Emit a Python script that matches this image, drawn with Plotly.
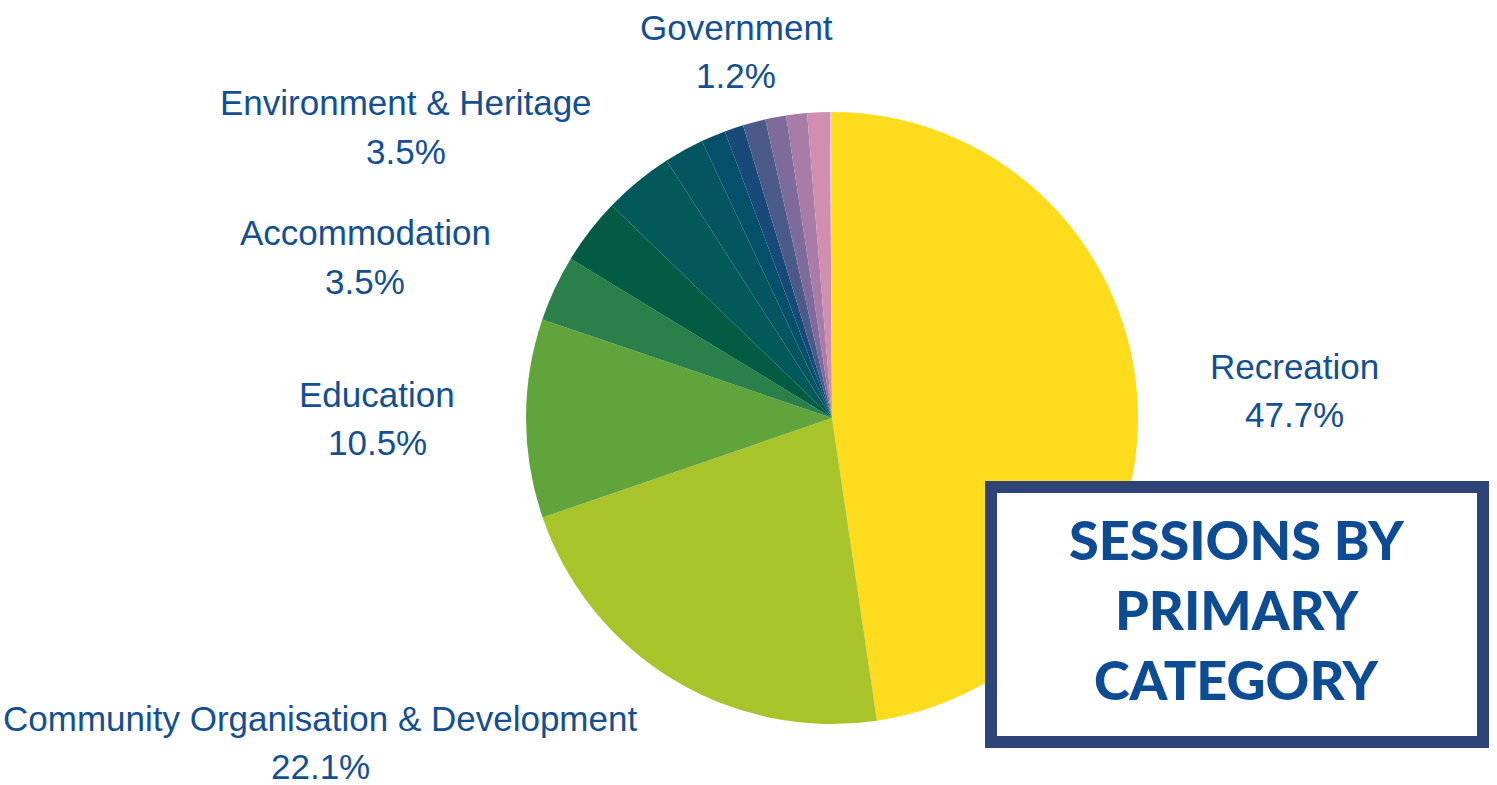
import plotly.graph_objects as go

W, H = 1497, 785

# Data (clockwise from 12 o'clock)
categories = [
    "Recreation",
    "Community Organisation & Development",
    "Education",
    "Accommodation",
    "Environment & Heritage",
    "Other category 1",
    "Other category 2",
    "Other category 3",
    "Other category 4",
    "Other category 5",
    "Other category 6",
    "Other category 7",
    "Government",
    "Other category 8",
]
values = [47.7, 22.1, 10.5, 3.5, 3.5, 3.7, 2.1, 1.3, 1.0, 1.2, 1.1, 1.1, 1.2, 0.1]
colors = [
    "#fcdc1c", "#a9c42b", "#62a43c", "#2a7f4a", "#035b44", "#03585a",
    "#04555f", "#044f6a", "#174a78", "#4c5a8a", "#7e6a9b", "#a97ca7",
    "#d08fb0", "#f2c6da",
]

# Labelled categories and their label positions (pixels)
labelled = {
    "Government": (736, 28, 76),
    "Environment & Heritage": (406, 103, 152),
    "Accommodation": (365, 233, 282),
    "Education": (377, 394, 442),
    "Recreation": (1294, 366, 414),
    "Community Organisation & Development": (320, 718, 766),
}

title_lines = ["SESSIONS BY", "PRIMARY", "CATEGORY"]


def px(x):
    return x / W


def py(y):
    return 1 - y / H


fig = go.Figure(
    go.Pie(
        labels=categories,
        values=values,
        marker=dict(colors=colors, line=dict(width=0)),
        sort=False,
        direction="clockwise",
        rotation=0,
        textinfo="none",
        hoverinfo="label+percent",
        showlegend=False,
        domain=dict(x=[px(526), px(1138)], y=[py(724), py(112)]),
    )
)

label_color = "#134f91"
label_font = dict(family="Liberation Sans, Arial", size=35, color=label_color)
annotations = []
for name, val in zip(categories, values):
    if name in labelled:
        x, y1, y2 = labelled[name]
        annotations.append(dict(
            x=px(x), y=py(y1), xref="paper", yref="paper", text=name,
            showarrow=False, xanchor="center", yanchor="middle", font=label_font,
        ))
        annotations.append(dict(
            x=px(x), y=py(y2), xref="paper", yref="paper", text=f"{val}%",
            showarrow=False, xanchor="center", yanchor="middle", font=label_font,
        ))

for line, yc in zip(title_lines, [539, 609, 679]):
    annotations.append(dict(
        x=px(1237), y=py(yc), xref="paper", yref="paper", text=line,
        showarrow=False, xanchor="center", yanchor="middle",
        font=dict(family="Lato", size=54, color="#0d4c92", weight=900),
    ))

fig.update_layout(
    width=W, height=H,
    margin=dict(l=0, r=0, t=0, b=0),
    paper_bgcolor="white",
    plot_bgcolor="white",
    annotations=annotations,
    shapes=[dict(
        type="rect", xref="paper", yref="paper",
        x0=px(991), x1=px(1483), y0=py(742), y1=py(487),
        line=dict(color="#2e4479", width=12), fillcolor="white", layer="above",
    )],
)

fig.write_html("out.html", config={"displayModeBar": False})

# remove the browser's default body margin so the figure sits at the page corner
with open("out.html", "r", encoding="utf-8") as f:
    html = f.read()
html = html.replace("<head>", "<head><style>html,body{margin:0;padding:0;overflow:hidden;}</style>", 1)
with open("out.html", "w", encoding="utf-8") as f:
    f.write(html)
